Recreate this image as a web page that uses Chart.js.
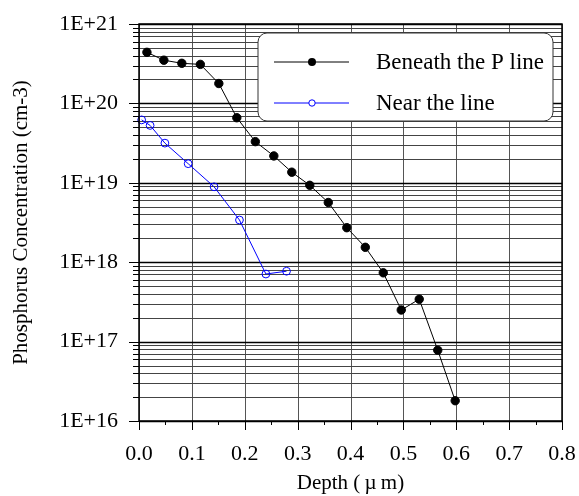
<!DOCTYPE html>
<html>
<head>
<meta charset="UTF-8">
<title>Phosphorus Concentration vs Depth</title>
<script src="https://cdn.jsdelivr.net/npm/chart.js"></script>
<style>
  html, body { margin: 0; padding: 0; background: #fff; }
</style>
</head>
<body>
<canvas id="profileChart" width="579" height="496"></canvas>
<script>
// values: depth in um, concentration in cm-3
const depthBeneath = [0.015, 0.047, 0.081, 0.116, 0.151, 0.185, 0.220, 0.255, 0.289, 0.323, 0.358, 0.393, 0.428, 0.462, 0.496, 0.530, 0.565, 0.598];
const concBeneath  = [4.4e20, 3.5e20, 3.2e20, 3.1e20, 1.78e20, 6.6e19, 3.3e19, 2.18e19, 1.36e19, 9.3e18, 5.65e18, 2.72e18, 1.54e18, 7.35e17, 2.5e17, 3.42e17, 7.8e16, 1.8e16];
const depthNear = [0.005, 0.021, 0.049, 0.093, 0.142, 0.190, 0.240, 0.279];
const concNear  = [6.2e19, 5.28e19, 3.16e19, 1.74e19, 8.9e18, 3.4e18, 7.1e17, 7.7e17];
const seriesLabels = ['Beneath the P line', 'Near the line'];
const depthTicks = [0.0, 0.1, 0.2, 0.3, 0.4, 0.5, 0.6, 0.7, 0.8];
const decadeExps = [16, 17, 18, 19, 20, 21];

const FONT = '"Liberation Serif", "Times New Roman", serif';
Chart.defaults.font.family = FONT;
Chart.defaults.color = '#000';

function isDecade(v) {
    const e = Math.log10(v);
    return Math.abs(e - Math.round(e)) < 1e-6;
}

// 1..9 in every decade, plus the top one
const concTicks = [];
decadeExps.forEach((e, i) => {
    if (i === decadeExps.length - 1) { concTicks.push(Math.pow(10, e)); return; }
    for (let k = 1; k <= 9; k++) concTicks.push(k * Math.pow(10, e));
});

// plot box taken from the axis ends
function plotBox(chart) {
    const {x, y} = chart.scales;
    return {
        l: x.getPixelForValue(depthTicks[0]),
        r: x.getPixelForValue(depthTicks[depthTicks.length - 1]),
        t: y.getPixelForValue(concTicks[concTicks.length - 1]),
        b: y.getPixelForValue(concTicks[0])
    };
}

// grid under the data
const gridLines = {
    id: 'gridLines',
    beforeDatasetsDraw(chart) {
        const {ctx, scales: {x, y}} = chart;
        const p = plotBox(chart);
        ctx.save();
        ctx.strokeStyle = '#555';
        ctx.lineWidth = 1;
        ctx.beginPath();
        depthTicks.forEach(v => {
            const px = Math.round(x.getPixelForValue(v)) + 0.5;
            ctx.moveTo(px, p.t);
            ctx.lineTo(px, p.b);
        });
        ctx.stroke();
        concTicks.forEach(v => {
            const py = Math.round(y.getPixelForValue(v)) + 0.5;
            ctx.strokeStyle = isDecade(v) ? '#000' : '#444';
            ctx.lineWidth = isDecade(v) ? 1.3 : 1;
            ctx.beginPath();
            ctx.moveTo(p.l, py);
            ctx.lineTo(p.r, py);
            ctx.stroke();
        });
        ctx.restore();
    }
};

// tick marks (major long, minor short) and the plot frame
const frameAndTicks = {
    id: 'frameAndTicks',
    afterDraw(chart) {
        const {ctx, scales: {x, y}} = chart;
        const p = plotBox(chart);
        ctx.save();
        ctx.strokeStyle = '#000';
        ctx.lineWidth = 1;
        ctx.beginPath();
        for (let i = 0; i <= 16; i++) {
            const px = Math.round(x.getPixelForValue(i * 0.05)) + 0.5;
            const len = i % 2 === 0 ? 9 : 4;
            ctx.moveTo(px, p.b);
            ctx.lineTo(px, p.b + len);
        }
        concTicks.forEach(v => {
            const py = Math.round(y.getPixelForValue(v)) + 0.5;
            const len = isDecade(v) ? 10 : 6;
            ctx.moveTo(p.l, py);
            ctx.lineTo(p.l - len, py);
        });
        ctx.stroke();
        ctx.lineWidth = 1.5;
        ctx.strokeRect(p.l, p.t, p.r - p.l, p.b - p.t);
        ctx.restore();
    }
};

// legend box inside the plot, like the original
const insideLegend = {
    id: 'insideLegend',
    afterDatasetsDraw(chart) {
        const ctx = chart.ctx;
        const box = {l: 258, t: 33, r: 553, b: 121, rad: 9};
        ctx.save();
        ctx.beginPath();
        ctx.moveTo(box.l + box.rad, box.t);
        ctx.arcTo(box.r, box.t, box.r, box.b, box.rad);
        ctx.arcTo(box.r, box.b, box.l, box.b, box.rad);
        ctx.arcTo(box.l, box.b, box.l, box.t, box.rad);
        ctx.arcTo(box.l, box.t, box.r, box.t, box.rad);
        ctx.closePath();
        ctx.fillStyle = '#fff';
        ctx.fill();
        ctx.strokeStyle = '#333';
        ctx.lineWidth = 1;
        ctx.stroke();

        const rows = [62, 103];
        chart.data.datasets.forEach((ds, i) => {
            const yy = rows[i];
            ctx.strokeStyle = ds.borderColor;
            ctx.lineWidth = 1;
            ctx.beginPath();
            ctx.moveTo(274, yy);
            ctx.lineTo(349, yy);
            ctx.stroke();
            ctx.beginPath();
            ctx.arc(312, yy, i === 0 ? 4 : 3.2, 0, Math.PI * 2);
            if (i === 0) {
                ctx.fillStyle = ds.pointBackgroundColor;
                ctx.fill();
            } else {
                ctx.fillStyle = '#fff';
                ctx.fill();
                ctx.stroke();
            }
            ctx.fillStyle = '#000';
            ctx.font = '23px ' + FONT;
            ctx.textBaseline = 'middle';
            ctx.textAlign = 'left';
            ctx.fillText(ds.label, 376, yy + 1);
        });
        ctx.restore();
    }
};

const ctx = document.getElementById('profileChart').getContext('2d');
new Chart(ctx, {
    type: 'scatter',
    data: {
        datasets: [{
            label: seriesLabels[0],
            data: depthBeneath.map((d, i) => ({x: d, y: concBeneath[i]})),
            showLine: true,
            borderColor: '#000',
            borderWidth: 1,
            pointRadius: 4.2,
            pointBackgroundColor: '#000',
            pointBorderColor: '#000',
            clip: false
        }, {
            label: seriesLabels[1],
            data: depthNear.map((d, i) => ({x: d, y: concNear[i]})),
            showLine: true,
            borderColor: '#0000ff',
            borderWidth: 1,
            pointRadius: 3.9,
            pointBorderWidth: 1,
            pointBackgroundColor: 'rgba(0,0,0,0)',
            pointBorderColor: '#0000ff',
            clip: false
        }]
    },
    options: {
        responsive: false,
        devicePixelRatio: 1,
        animation: false,
        layout: { padding: { top: 24, right: 17, left: 0, bottom: 0 } },
        plugins: { legend: { display: false }, tooltip: { enabled: false } },
        scales: {
            x: {
                type: 'linear',
                min: 0,
                max: 0.8,
                afterFit(scale) { scale.height = 75; },
                afterBuildTicks(scale) { scale.ticks = depthTicks.map(v => ({value: v})); },
                ticks: {
                    padding: 2,
                    font: { size: 22 },
                    color: '#000',
                    callback: v => Number(v).toFixed(1)
                },
                // grid and ticks are drawn by the plugins; the invisible tick marks only space the labels
                grid: { drawOnChartArea: false, drawTicks: true, tickLength: 18, tickColor: 'rgba(0,0,0,0)' },
                border: { display: false },
                title: {
                    display: true,
                    text: 'Depth (\u2009\u00b5\u2009m)',
                    font: { size: 21 },
                    color: '#000',
                    padding: { top: 0, bottom: 0 }
                }
            },
            y: {
                type: 'logarithmic',
                min: 1e16,
                max: 1e21,
                afterFit(scale) { scale.width = 139; },
                afterBuildTicks(scale) { scale.ticks = concTicks.map(v => ({value: v})); },
                ticks: {
                    autoSkip: false,
                    padding: 0,
                    font: { size: 22 },
                    color: '#000',
                    callback: v => isDecade(v) ? '1E+' + Math.round(Math.log10(v)) : ''
                },
                grid: { drawOnChartArea: false, drawTicks: true, tickLength: 21, tickColor: 'rgba(0,0,0,0)' },
                border: { display: false },
                title: {
                    display: true,
                    text: 'Phosphorus Concentration (cm-3)',
                    font: { size: 21 },
                    color: '#000',
                    padding: { top: 9, bottom: 0 }
                }
            }
        }
    },
    plugins: [gridLines, frameAndTicks, insideLegend]
});
</script>
</body>
</html>
